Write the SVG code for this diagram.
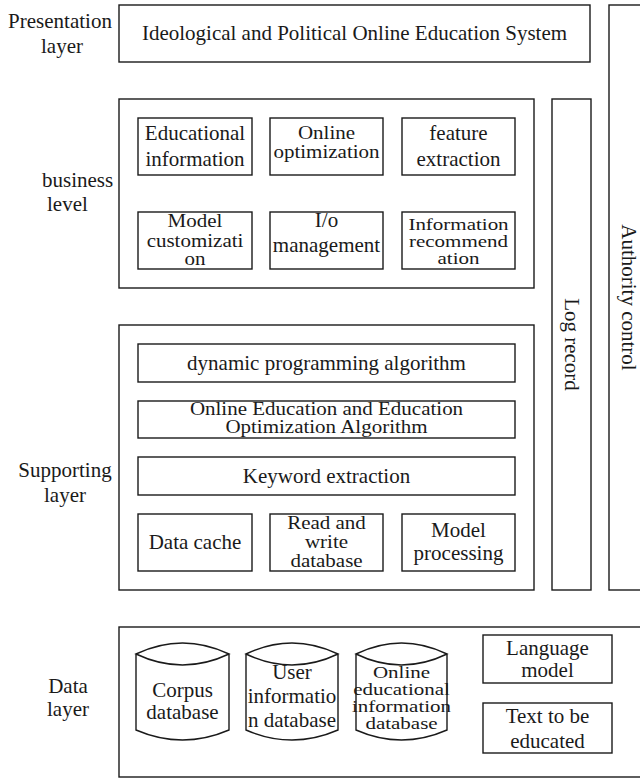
<svg xmlns="http://www.w3.org/2000/svg" width="640" height="778" viewBox="0 0 640 778">
<style>
rect,path{fill:none;stroke:#1a1a1a;stroke-width:1.4}
text{font-family:"Liberation Serif","Times New Roman",serif;font-size:21px;fill:#1a1a1a}
.m{text-anchor:middle}
</style>
<rect x="0" y="0" width="640" height="778" style="fill:#fff;stroke:none"/>
<g id="labels" font-family="Liberation Serif, serif">
<text class="m" x="60" y="28">Presentation</text>
<text class="m" x="62" y="53">layer</text>
<text x="42" y="187">business</text>
<text x="47" y="211">level</text>
<text class="m" x="65" y="477">Supporting</text>
<text class="m" x="65" y="502">layer</text>
<text class="m" x="68" y="693">Data</text>
<text class="m" x="68" y="716">layer</text>
</g>
<g id="presentation">
<rect x="119" y="5" width="471" height="57"/>
<text class="m" x="354.5" y="40">Ideological and Political Online Education System</text>
</g>
<g id="authority">
<rect x="609" y="5" width="45" height="585"/>
<text class="m" transform="translate(629,297.5) rotate(90)" x="0" y="7">Authority control</text>
</g>
<g id="log">
<rect x="552" y="99" width="39" height="491"/>
<text class="m" transform="translate(571.5,344.5) rotate(90)" x="0" y="7">Log record</text>
</g>
<g id="business">
<rect x="119" y="99" width="415" height="189"/>
<g id="b1"><rect x="138" y="118" width="114" height="57"/>
<text class="m" x="195" y="140">Educational</text><text class="m" x="195" y="166">information</text></g>
<g id="b2"><rect x="270" y="118" width="113" height="57"/>
<text class="m" transform="translate(326.5,139) scale(1,0.88)">Online</text><text class="m" transform="translate(326.5,158) scale(1,0.88)">optimization</text></g>
<g id="b3"><rect x="402" y="118" width="113" height="57"/>
<text class="m" x="458.5" y="140">feature</text><text class="m" x="458.5" y="166">extraction</text></g>
<g id="b4"><rect x="138" y="212" width="114" height="57"/>
<text class="m" transform="translate(195,227) scale(1,0.85)">Model</text><text class="m" transform="translate(195,247) scale(1,0.85)">customizati</text><text class="m" transform="translate(195,265) scale(1,0.85)">on</text></g>
<g id="b5"><rect x="270" y="212" width="113" height="57"/>
<text class="m" x="326.5" y="227">I/o</text><text class="m" x="326.5" y="252">management</text></g>
<g id="b6"><rect x="402" y="212" width="113" height="57"/>
<text class="m" transform="translate(458.5,230) scale(1,0.8)">Information</text><text class="m" transform="translate(458.5,247) scale(1,0.8)">recommend</text><text class="m" transform="translate(458.5,264) scale(1,0.8)">ation</text></g>
</g>
<g id="supporting">
<rect x="119" y="325" width="415" height="265"/>
<g id="s1"><rect x="138" y="344" width="377" height="38"/>
<text class="m" x="326.5" y="370">dynamic programming algorithm</text></g>
<g id="s2"><rect x="138" y="401" width="377" height="37"/>
<text class="m" transform="translate(326.5,415) scale(1,0.85)">Online Education and Education</text><text class="m" transform="translate(326.5,433) scale(1,0.85)">Optimization Algorithm</text></g>
<g id="s3"><rect x="138" y="457" width="377" height="38"/>
<text class="m" x="326.5" y="483">Keyword extraction</text></g>
<g id="s4"><rect x="138" y="514" width="114" height="57"/>
<text class="m" x="195" y="549">Data cache</text></g>
<g id="s5"><rect x="270" y="514" width="113" height="57"/>
<text class="m" transform="translate(326.5,529) scale(1,0.88)">Read and</text><text class="m" transform="translate(326.5,548) scale(1,0.88)">write</text><text class="m" transform="translate(326.5,567) scale(1,0.88)">database</text></g>
<g id="s6"><rect x="402" y="514" width="113" height="57"/>
<text class="m" x="458.5" y="537">Model</text><text class="m" x="458.5" y="560">processing</text></g>
</g>
<g id="data">
<rect x="119" y="627" width="530" height="150"/>
<g id="d1"><path d="M136,654 Q182.5,632 229,654 Q182.5,676 136,654 Z M136,654 V730 Q182.5,750 229,730 V654"/>
<text class="m" x="182.5" y="697">Corpus</text><text class="m" x="182.5" y="719">database</text></g>
<g id="d2"><path d="M246,654 Q292,632 338,654 Q292,676 246,654 Z M246,654 V730 Q292,750 338,730 V654"/>
<text class="m" x="292" y="679">User</text><text class="m" x="292" y="703">informatio</text><text class="m" x="292" y="727">n database</text></g>
<g id="d3"><path d="M356,654 Q401.5,632 447,654 Q401.5,676 356,654 Z M356,654 V730 Q401.5,750 447,730 V654"/>
<text class="m" transform="translate(401.5,678) scale(1,0.8)">Online</text><text class="m" transform="translate(401.5,695) scale(1,0.8)">educational</text><text class="m" transform="translate(401.5,712) scale(1,0.8)">information</text><text class="m" transform="translate(401.5,729) scale(1,0.8)">database</text></g>
<g id="d4"><rect x="483" y="635" width="129" height="48"/>
<text class="m" x="547.5" y="655">Language</text><text class="m" x="547.5" y="677">model</text></g>
<g id="d5"><rect x="483" y="703" width="129" height="50"/>
<text class="m" x="547.5" y="723">Text to be</text><text class="m" x="547.5" y="748">educated</text></g>
</g>
<g id="connectors"></g>
</svg>
